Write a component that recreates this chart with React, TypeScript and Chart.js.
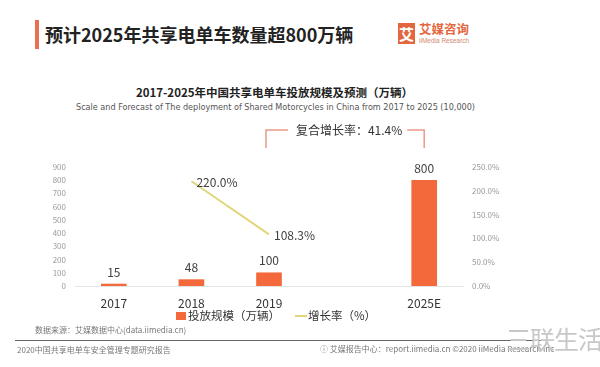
import React, { useEffect, useRef } from 'react';
import { Chart, registerables } from 'chart.js';

Chart.register(...registerables);

const categories = ['2017', '2018', '2019', '', '2025E'];
const scaleValues = [15, 48, 100, null, 800];
const growthRates = [null, 220.0, 108.3, null, null];
const seriesNames = ['投放规模（万辆）', '增长率（%）'];
const cagrText = '复合增长率：41.4%';
const leftAxis = { min: 0, max: 900, step: 100 };
const rightAxis = { min: 0, max: 250, step: 50 };

const ORANGE = '#f4693b';
const YELLOW = '#e2d67a';
const CJK = '"Noto Sans CJK SC", "Noto Sans", sans-serif';

const labelPlugin = {
  id: 'valueLabels',
  afterDatasetsDraw(chart: any) {
    const ctx = chart.ctx;
    ctx.save();
    ctx.font = `12px ${CJK}`;
    ctx.fillStyle = '#404040';
    ctx.textAlign = 'center';
    ctx.textBaseline = 'middle';
    const bars = chart.getDatasetMeta(0);
    bars.data.forEach((el: any, i: number) => {
      const v = scaleValues[i];
      if (v == null) return;
      ctx.fillText(String(v), el.x, el.y - 12);
    });
    const line = chart.getDatasetMeta(1);
    ctx.textAlign = 'left';
    line.data.forEach((el: any, i: number) => {
      const v = growthRates[i];
      if (v == null) return;
      ctx.fillText(v.toFixed(1) + '%', el.x + 5, el.y + 1);
    });
    // CAGR bracket
    const xs = chart.scales.x;
    const top = chart.chartArea.top;
    const x1 = xs.getPixelForValue(2) - 3;
    const x2 = xs.getPixelForValue(4);
    const yH = top - 37;
    const yB = top - 19;
    ctx.font = `12px ${CJK}`;
    const tw = ctx.measureText(cagrText).width;
    const mid = (x1 + x2) / 2 + 4;
    ctx.strokeStyle = '#e99a86';
    ctx.lineWidth = 1.5;
    ctx.beginPath();
    ctx.moveTo(x1, yB);
    ctx.lineTo(x1, yH);
    ctx.lineTo(mid - tw / 2 - 8, yH);
    ctx.moveTo(mid + tw / 2 + 5, yH);
    ctx.lineTo(x2, yH);
    ctx.lineTo(x2, yB);
    ctx.stroke();
    ctx.fillStyle = '#333';
    ctx.textAlign = 'center';
    ctx.fillText(cagrText, mid, yH);
    ctx.restore();
  },
};

const abs = (s: React.CSSProperties): React.CSSProperties => ({
  position: 'absolute',
  whiteSpace: 'nowrap',
  lineHeight: 1,
  fontFamily: CJK,
  ...s,
});

export default function App() {
  const ref = useRef<HTMLCanvasElement | null>(null);

  useEffect(() => {
    if (!ref.current) return;
    const chart = new Chart(ref.current, {
      type: 'bar',
      data: {
        labels: categories,
        datasets: [
          {
            type: 'bar',
            label: seriesNames[0],
            data: scaleValues as any,
            backgroundColor: ORANGE,
            barThickness: 25,
            yAxisID: 'y',
            order: 2,
          },
          {
            type: 'line',
            label: seriesNames[1],
            data: growthRates as any,
            borderColor: YELLOW,
            borderWidth: 2,
            pointRadius: 0,
            spanGaps: false,
            yAxisID: 'y1',
            order: 1,
          },
        ],
      },
      options: {
        responsive: false,
        animation: false,
        devicePixelRatio: 1,
        layout: { padding: { top: 167, left: 0, right: 0, bottom: 0 } },
        plugins: {
          legend: { display: false },
          title: { display: false },
          tooltip: { enabled: false },
        },
        scales: {
          x: {
            grid: { display: false },
            border: { display: true, color: '#e3e3e3', width: 1 },
            ticks: {
              color: '#333',
              font: { size: 12, family: CJK },
              padding: 2,
            },
            afterFit: (s: any) => {
              s.height = 81;
            },
          },
          y: {
            position: 'left',
            min: leftAxis.min,
            max: leftAxis.max,
            grid: { display: false, drawTicks: false },
            border: { display: false },
            ticks: {
              stepSize: leftAxis.step,
              color: '#9a9a9a',
              font: { size: 8, family: CJK },
              padding: 9,
            },
            afterFit: (s: any) => {
              s.width = 75;
            },
          },
          y1: {
            position: 'right',
            min: rightAxis.min,
            max: rightAxis.max,
            grid: { display: false, drawTicks: false },
            border: { display: false },
            ticks: {
              stepSize: rightAxis.step,
              color: '#9a9a9a',
              font: { size: 8, family: CJK },
              padding: 9,
              callback: (v: any) => Number(v).toFixed(1) + '%',
            },
            afterFit: (s: any) => {
              s.width = 137;
            },
          },
        },
      },
      plugins: [labelPlugin],
    });
    return () => chart.destroy();
  }, []);

  return (
    <div
      style={{
        position: 'fixed',
        left: 0,
        top: 0,
        width: 600,
        height: 367,
        background: '#fff',
        overflow: 'hidden',
      }}
    >
      {/* header */}
      <div style={abs({ left: 35, top: 20, width: 4, height: 29, background: '#e8704e' })} />
      <div style={abs({ left: 45, top: 25, fontSize: 18, fontWeight: 700, color: '#222' })}>
        预计2025年共享电单车数量超800万辆
      </div>
      <div
        style={abs({
          left: 398,
          top: 23,
          width: 17,
          height: 21,
          background: '#e4663f',
          color: '#fff',
          fontSize: 15,
          fontWeight: 700,
          textAlign: 'center',
          paddingTop: 3,
          boxSizing: 'border-box',
        })}
      >
        艾
      </div>
      <div style={abs({ left: 419, top: 23, fontSize: 12.5, fontWeight: 700, color: '#e4663f' })}>
        艾媒咨询
      </div>
      <div style={abs({ left: 419, top: 38, fontSize: 6.5, color: '#d48a70', fontFamily: 'Liberation Sans, sans-serif' })}>
        iiMedia Research
      </div>

      <div style={abs({ left: 0, width: 549, top: 87, textAlign: 'center', fontSize: 11.5, fontWeight: 700, color: '#222' })}>
        2017-2025年中国共享电单车投放规模及预测（万辆）
      </div>
      <div
        style={abs({
          left: 0,
          width: 551,
          top: 103,
          textAlign: 'center',
          fontSize: 9,
          color: '#555',
          fontFamily: '"Liberation Sans Narrow", "DejaVu Sans Condensed", sans-serif',
        })}
      >
        Scale and Forecast of The deployment of Shared Motorcycles in China from 2017 to 2025 (10,000)
      </div>

      <canvas ref={ref} width={600} height={367} style={{ position: 'absolute', left: 0, top: 0, width: 600, height: 367 }} />

      {/* legend */}
      <div style={abs({ left: 176, top: 312, width: 10, height: 8, background: ORANGE })} />
      <div style={abs({ left: 188, top: 310, fontSize: 11.5, color: '#333' })}>{seriesNames[0]}</div>
      <div style={abs({ left: 295, top: 315, width: 12, height: 1.5, background: YELLOW })} />
      <div style={abs({ left: 308, top: 310, fontSize: 11.5, color: '#333' })}>{seriesNames[1]}</div>

      {/* footer */}
      <div style={abs({ left: 35, top: 326, fontSize: 8, color: '#777' })}>数据来源：艾媒数据中心(data.iimedia.cn)</div>
      <div style={abs({ left: 15, top: 340, width: 535, height: 1, background: '#666' })} />
      <div style={abs({ left: 17, top: 346, fontSize: 8, color: '#777' })}>2020中国共享电单车安全管理专题研究报告</div>
      <div style={abs({ left: 320, top: 345, fontSize: 8, color: '#777' })}>
        ⓘ 艾媒报告中心：report.iimedia.cn  ©2020  iiMedia Research Inc
      </div>
      <div style={abs({ left: 506, top: 326, fontSize: 25, color: '#c8c8c8', letterSpacing: -1 })}>三联生活</div>
    </div>
  );
}
